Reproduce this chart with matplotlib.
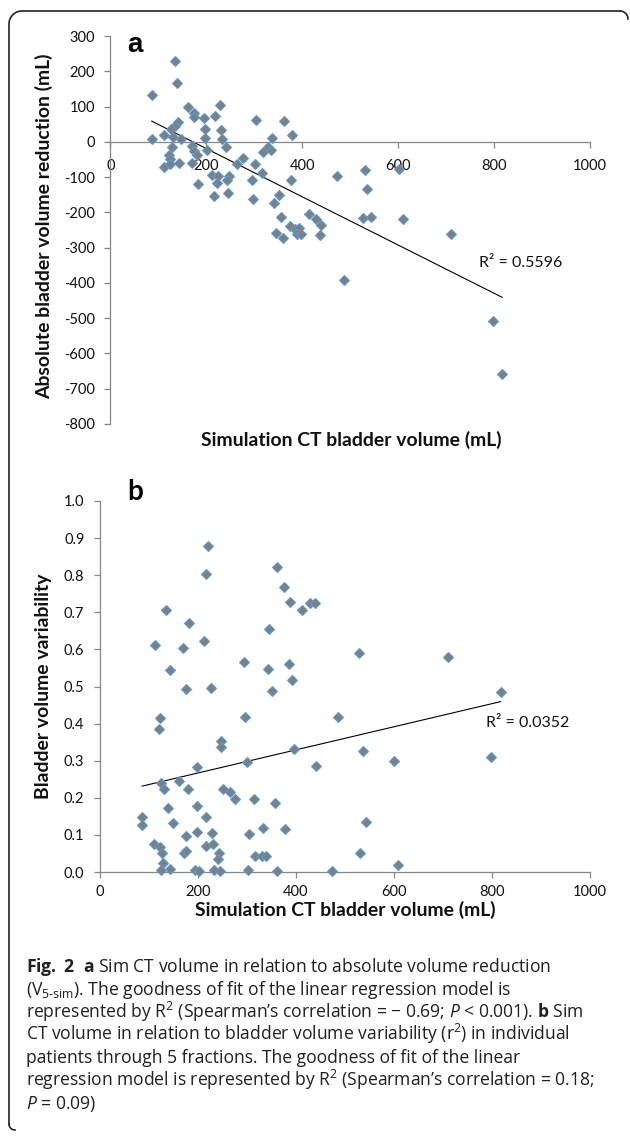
import numpy as np
import matplotlib
matplotlib.use("Agg")
import matplotlib.pyplot as plt
from matplotlib import font_manager

# ---------------- data ----------------
sim_ct_a = [134.5, 138, 86, 161, 228, 175, 174, 195, 218.6, 141, 134.5, 126, 197, 230,
            111.6, 130, 147.7, 86, 197, 232, 304, 361, 378, 337, 127.5, 169, 240, 200.6,
            175, 122, 180, 329, 335, 317, 124, 111.6, 124, 143.5, 169, 264.5, 277, 300.7,
            315, 212, 225, 248, 242, 222, 182, 294.5, 377, 246, 216.5, 298, 351, 341.6,
            356, 413, 428.6, 439, 374, 385, 394, 388, 397, 344.5, 359, 437, 471.7, 531,
            535.6, 527, 543, 487, 601, 609, 710, 798, 817]
reduction_a = [230, 166, 132, 100, 105, 82, 71, 68, 72, 55, 45, 36, 35, 33,
               18, 15, 8, 8, 12, 7, 62, 58, 20, 12, -14, -12, -14, -23,
               -26, -36, -37, -14, -23, -30, -50, -70, -63, -59, -61, -62, -47, -62,
               -89, -94, -96, -97, -108, -118, -119, -109, -109, -145, -154, -162, -151, -174,
               -212, -205, -219, -235, -239, -248, -244, -261, -261, -258, -272, -264, -96, -80,
               -135, -215, -214, -392, -78, -219, -261, -507, -659]

sim_ct_b = [221, 216, 360.5, 375, 388, 428.6, 439, 413, 134.7, 182, 345, 113, 170, 212,
            528, 294.5, 343, 385, 143.5, 392.5, 175, 226, 350, 709.6, 817.7, 485.7, 396,
            536.7, 440, 601, 798, 377, 543, 530.6, 609,
            122.4, 120.4, 296, 246, 246, 197, 299, 125, 161, 131, 179, 250, 264.6, 276,
            314, 358, 139, 198, 86, 86, 149.6, 217, 176, 198, 228.6, 304.8, 333, 111, 123,
            217, 230, 127, 171, 175.5, 242, 240, 316, 330.6, 338, 129, 125, 142, 194.5,
            202, 232, 245.6, 302, 362, 473.5]
variability_b = [0.879, 0.803, 0.823, 0.767, 0.727, 0.724, 0.726, 0.705, 0.706, 0.672, 0.655,
                 0.612, 0.603, 0.623, 0.590, 0.566, 0.546, 0.561, 0.544, 0.518, 0.494, 0.495,
                 0.488, 0.580, 0.484, 0.419, 0.332, 0.327, 0.287, 0.299, 0.309, 0.117, 0.135,
                 0.050, 0.020,
                 0.416, 0.385, 0.419, 0.354, 0.338, 0.284, 0.296, 0.239, 0.246, 0.223, 0.223,
                 0.224, 0.215, 0.197, 0.197, 0.187, 0.173, 0.179, 0.149, 0.128, 0.131, 0.149,
                 0.098, 0.108, 0.104, 0.102, 0.118, 0.075, 0.068, 0.069, 0.075, 0.050, 0.050,
                 0.057, 0.050, 0.036, 0.044, 0.044, 0.044, 0.023, 0.005, 0.009, 0.005, 0.003,
                 0.005, 0.003, 0.005, 0.003, 0.003]

x_ticks = [0, 200, 400, 600, 800, 1000]
y_ticks_a = [300, 200, 100, 0, -100, -200, -300, -400, -500, -600, -700, -800]
y_ticks_b = [0.0, 0.1, 0.2, 0.3, 0.4, 0.5, 0.6, 0.7, 0.8, 0.9, 1.0]
r2_a = "R² = 0.5596"
r2_b = "R² = 0.0352"
xlabel = "Simulation CT bladder volume (mL)"
ylabel_a = "Absolute bladder volume reduction (mL)"
ylabel_b = "Bladder volume variability"
caption_lines = [
    r"$\mathbf{Fig.\ 2}$  $\mathbf{a}$ Sim CT volume in relation to absolute volume reduction",
    r"(V$_{\text{5-sim}}$). The goodness of fit of the linear regression model is",
    r"represented by R$^{2}$ (Spearman’s correlation = − 0.69; $\mathit{P}$ < 0.001). $\mathbf{b}$ Sim",
    r"CT volume in relation to bladder volume variability (r$^{2}$) in individual",
    r"patients through 5 fractions. The goodness of fit of the linear",
    r"regression model is represented by R$^{2}$ (Spearman’s correlation = 0.18;",
    r"$\mathit{P}$ = 0.09)",
]

# ---------------- fonts ----------------
names = {f.name for f in font_manager.fontManager.ttflist}
cap_font = "Liberation Sans Narrow" if "Liberation Sans Narrow" in names else "Open Sans"
chart_font = "Lato" if "Lato" in names else "DejaVu Sans"
plt.rcParams["font.family"] = [chart_font, "DejaVu Sans"]
plt.rcParams["axes.unicode_minus"] = False
plt.rcParams["mathtext.fontset"] = "custom"
plt.rcParams["mathtext.rm"] = cap_font
plt.rcParams["mathtext.it"] = cap_font + ":italic"
plt.rcParams["mathtext.bf"] = cap_font + ":bold"

W, H = 630, 1136
fig = plt.figure(figsize=(W / 100, H / 100), dpi=100)
renderer = fig.canvas.get_renderer()

AX_COL = "#868686"
FILL = "#7f7f7f"
EDGE = "#5b9bd5"
TXT = "#111111"


def style_axes(ax):
    for s in ("top", "right"):
        ax.spines[s].set_visible(False)
    for s in ("left", "bottom"):
        ax.spines[s].set_color(AX_COL)
        ax.spines[s].set_linewidth(0.9)
    ax.tick_params(colors=AX_COL, labelcolor=TXT, labelsize=10.5, length=4.2, width=0.9,
                   direction="out")
    ax.patch.set_alpha(0)


def px_rect(l, t, r, b):
    return [l / W, 1 - b / H, (r - l) / W, (b - t) / H]


# ---------------- panel a ----------------
ax_a = fig.add_axes(px_rect(110.5, 36, 590, 424))
style_axes(ax_a)
ax_a.set_xlim(0, 1000)
ax_a.set_ylim(-800, 300)
ax_a.spines["bottom"].set_position(("data", 0))
ax_a.set_xticks(x_ticks)
ax_a.set_xticklabels([str(v) for v in x_ticks])
ax_a.set_yticks(y_ticks_a)
ax_a.set_yticklabels([str(v) for v in y_ticks_a])
ax_a.tick_params(axis="x", pad=8)
ax_a.tick_params(axis="y", pad=7)
ax_a.plot(sim_ct_a, reduction_a, linestyle="none", marker="D", ms=4.7, mfc=FILL, mec=EDGE,
          mew=0.8, clip_on=False, zorder=3)
ca = np.polyfit(sim_ct_a, reduction_a, 1)
xa = np.array([min(sim_ct_a), max(sim_ct_a)])
ax_a.plot(xa, np.polyval(ca, xa), color="black", lw=0.8, zorder=2)

# ---------------- panel b ----------------
ax_b = fig.add_axes(px_rect(100, 501, 590, 872))
style_axes(ax_b)
ax_b.set_xlim(0, 1000)
ax_b.set_ylim(0, 1.0)
ax_b.set_xticks(x_ticks)
ax_b.set_xticklabels([str(v) for v in x_ticks])
ax_b.set_yticks(y_ticks_b)
ax_b.set_yticklabels([f"{v:.1f}" for v in y_ticks_b])
ax_b.tick_params(axis="x", pad=5)
ax_b.tick_params(axis="y", pad=7)
ax_b.plot(sim_ct_b, variability_b, linestyle="none", marker="D", ms=4.7, mfc=FILL, mec=EDGE,
          mew=0.8, clip_on=False, zorder=3)
cb = np.polyfit(sim_ct_b, variability_b, 1)
xb = np.array([min(sim_ct_b), max(sim_ct_b)])
ax_b.plot(xb, np.polyval(cb, xb), color="black", lw=0.8, zorder=2)

# ---------------- overlay (pixel coordinates) ----------------
ov = fig.add_axes([0, 0, 1, 1])
ov.set_xlim(0, W)
ov.set_ylim(H, 0)
ov.axis("off")
ov.patch.set_alpha(0)

# frame (left + top border with rounded corners)
t = np.linspace(0, np.pi / 2, 20)
r = 13
xs = [9, 9] + list(22 - r * np.cos(t)) + [620]
ys = [1124, 24] + list(24 - r * np.sin(t)) + [11]
ov.plot(xs, ys, color="#222222", lw=1.2, solid_capstyle="round")
t2 = np.linspace(0, np.pi / 2, 10)
ov.plot(620 + 8 * np.sin(t2), 19 - 8 * np.cos(t2), color="#222222", lw=1.2)
ov.plot(9 + 6 * (1 - np.cos(t2)), 1124 + 6 * np.sin(t2), color="#222222", lw=1.2)

# panel letters
ov.text(134.7, 44.5, "a", fontsize=20, fontweight="bold", family="Liberation Sans",
        ha="center", va="center", color="black")
ov.text(135, 492.5, "b", fontsize=20, fontweight="bold", ha="center", va="center", color="black")

# axis titles, sized so the x title spans about 300 px as in the reference
probe = ov.text(0, 0, xlabel, fontsize=12, fontweight="bold")
lab_size = min(14.0, 12 * 300.0 / probe.get_window_extent(renderer).width)
probe.remove()
ov.text(351, 440, xlabel, fontsize=lab_size, fontweight="bold", ha="center", va="center", color=TXT)
ov.text(345, 910, xlabel, fontsize=lab_size, fontweight="bold", ha="center", va="center", color=TXT)
ov.text(44, 226, ylabel_a, fontsize=lab_size, fontweight="bold", rotation=90, ha="center",
        va="center", color=TXT)
ov.text(44, 686, ylabel_b, fontsize=lab_size, fontweight="bold", rotation=90, ha="center",
        va="center", color=TXT)

# R^2 annotations
ov.text(479, 263, r2_a, fontsize=11.5, ha="left", va="center", color=TXT)
ov.text(485.7, 723, r2_b, fontsize=11.5, ha="left", va="center", color=TXT)

# caption: one font size fitted so the long lines end where the reference lines end
targets = {0: 574, 2: 586, 3: 571, 5: 571}
scales = []
for i, tw in targets.items():
    p = ov.text(26, 972, caption_lines[i], fontsize=14, family=cap_font)
    scales.append(tw / p.get_window_extent(renderer).width)
    p.remove()
cap_size = 14 * min(scales)
baselines = [972, 995, 1017.7, 1040.3, 1063, 1085.5, 1108.5]
for line, yb in zip(caption_lines, baselines):
    ov.text(26, yb, line, fontsize=cap_size, family=cap_font, ha="left", va="baseline",
            color="#231f20")

fig.savefig("out.png", dpi=100)
